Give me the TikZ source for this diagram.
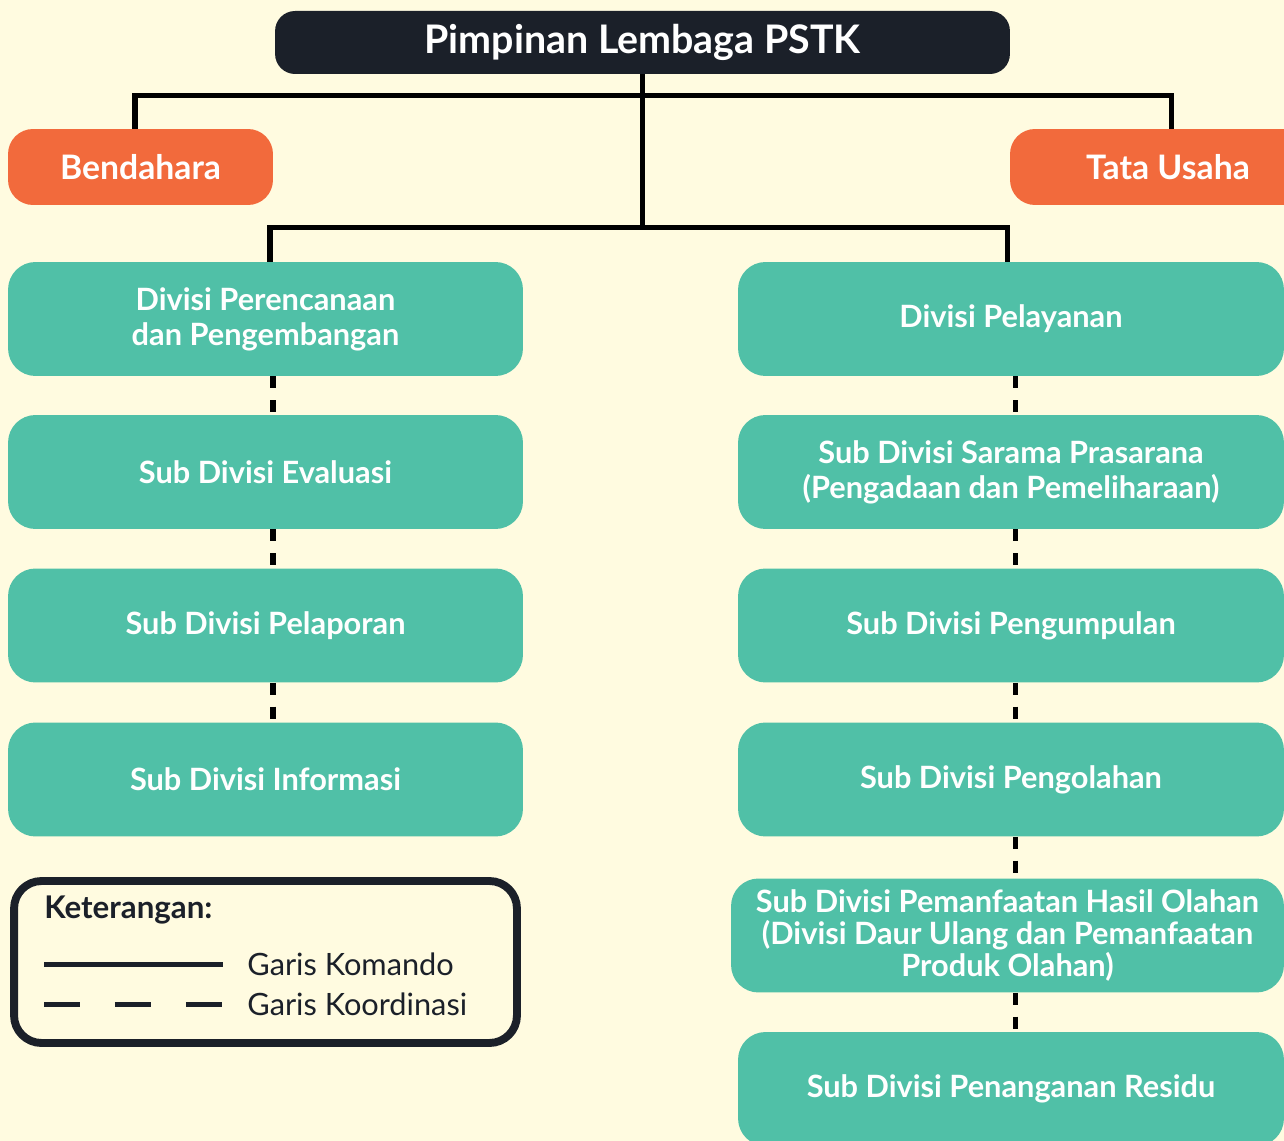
\documentclass[tikz,border=0pt]{standalone}
\usepackage{fontspec}
\setmainfont{Lato}
\definecolor{bgcream}{HTML}{FFFBE0}
\definecolor{darkbox}{HTML}{1B2029}
\definecolor{orangebox}{HTML}{F26A3C}
\definecolor{tealbox}{HTML}{50C0A7}
\begin{document}
\begin{tikzpicture}[x=0.02cm,y=-0.02cm,
  kepala/.style={fill=darkbox,rounded corners=0.4cm,text=white,font=\fontsize{22.4}{26}\selectfont\bfseries,minimum width=14.7cm,minimum height=1.26cm},
  staf/.style={fill=orangebox,rounded corners=0.5cm,text=white,font=\fontsize{19.2}{22}\selectfont\bfseries,minimum height=1.52cm},
  divisi/.style={fill=tealbox,rounded corners=0.55cm,text=white,align=center,font=\fontsize{17.5}{20}\selectfont\bfseries,minimum height=2.28cm},
  kiri/.style={divisi,minimum width=10.3cm},
  kanan/.style={divisi,minimum width=10.92cm},
  komando/.style={line width=2.85pt},
  koordinasi/.style={line width=2.85pt,dash pattern=on 6.8pt off 6.8pt},
  ketteks/.style={anchor=west,inner sep=0pt,text=darkbox,font=\fontsize{17.5}{20}\selectfont}]
\useasboundingbox[fill=bgcream] (0,0) rectangle (1284,1141);
\node[kepala] (pim) at (642.5,42.5) {Pimpinan Lembaga PSTK};
\node[staf,minimum width=5.3cm] (bend) at (140.5,167) {Bendahara};
\node[staf,minimum width=6.32cm] (tata) at (1168,167) {Tata Usaha};
\node[kiri] (ren) at (265.5,319) {Divisi Perencanaan\\dan Pengembangan};
\node[kiri] (eva) at (265.5,472) {Sub Divisi Evaluasi};
\node[kiri] (lap) at (265.5,625.5) {Sub Divisi Pelaporan};
\node[kiri] (inf) at (265.5,779.5) {Sub Divisi Informasi};
\node[kanan] (pel) at (1011,319) {Divisi Pelayanan};
\node[kanan] (sar) at (1011,472) {Sub Divisi Sarama Prasarana\\(Pengadaan dan Pemeliharaan)};
\node[kanan] (kum) at (1011,625.5) {Sub Divisi Pengumpulan};
\node[kanan] (olah) at (1011,779.5) {Sub Divisi Pengolahan};
\node[divisi,minimum width=11.06cm,font=\fontsize{17.5}{18.2}\selectfont\bfseries] (has) at (1007.5,935.5) {Sub Divisi Pemanfaatan Hasil Olahan\\(Divisi Daur Ulang dan Pemanfaatan\\Produk Olahan)};
\node[kanan] (res) at (1011,1089) {Sub Divisi Penanganan Residu};
\coordinate (atas) at (642.5,96);
\coordinate (hub) at (642.5,228);
\draw[komando] (pim.south) -- (hub);
\draw[komando] ([xshift=-0.11cm]bend.north) |- (atas) -| ([xshift=0.06cm]tata.north);
\draw[komando] ([xshift=0.09cm]ren.north) |- (hub) -| ([xshift=-0.08cm]pel.north);
\foreach \a/\b/\s in {ren/eva/0.15cm,eva/lap/0.15cm,lap/inf/0.15cm,pel/sar/0.08cm,sar/kum/0.08cm,kum/olah/0.08cm,olah/has/0.08cm,has/res/0.15cm}
  \draw[koordinasi] ([xshift=\s]\a.south) -- ([xshift=\s]\a.south |- \b.north);
\node[draw=darkbox,line width=4.5pt,rounded corners=0.55cm,minimum width=10.06cm,minimum height=3.24cm] (ket) at (265.5,962) {};
\node[ketteks,font=\fontsize{17.8}{20}\selectfont\bfseries] (judul) at (44,910) {Keterangan:};
\coordinate (k1) at (44,964);
\coordinate (k2) at (223,964);
\coordinate (d1) at (44,1004);
\coordinate (d2) at (223,1004);
\draw[komando,darkbox] (k1) -- (k2);
\draw[line width=2.85pt,darkbox,dash pattern=on 0.72cm off 0.7cm] (d1) -- (d2);
\node[ketteks] (gk) at (247,964) {Garis Komando};
\node[ketteks] (gd) at (247,1004) {Garis Koordinasi};
\end{tikzpicture}
\end{document}
